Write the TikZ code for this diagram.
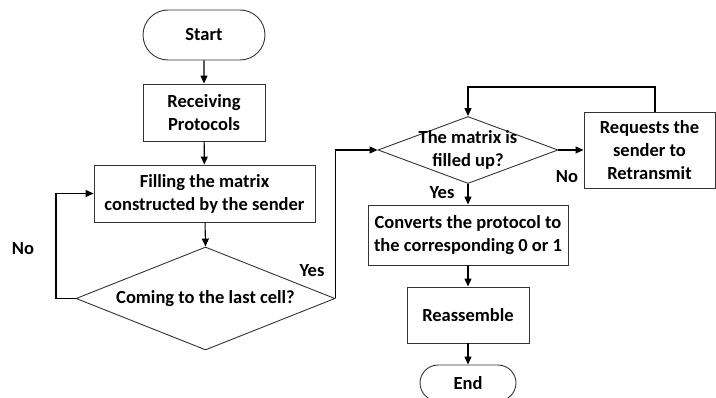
\documentclass[tikz,border=0pt]{standalone}
\usepackage{fontspec}
\setmainfont{Carlito}
\usetikzlibrary{shapes.geometric,shapes.misc,arrows.meta}
\begin{document}
\begin{tikzpicture}[x=1pt,y=-1pt,
  every node/.style={font=\fontsize{18.5}{23}\selectfont\bfseries, align=center, inner sep=0pt},
  proc/.style={draw=black!80, line width=0.9pt, rectangle},
  term/.style={draw=black!80, line width=0.9pt, rounded rectangle},
  dec/.style={draw=black!80, line width=0.9pt, diamond},
  conn/.style={draw=black, line width=1.1pt, -{Triangle[length=8pt,width=7pt]}},
  lbl/.style={}]
\clip (0,0) rectangle (716,398);
\useasboundingbox (0,0) rectangle (716,398);
\node[term, minimum width=122pt, minimum height=50pt] (start) at (204,35) {Start};
\node[proc, minimum width=122pt, minimum height=57pt] (recv) at (204,112.5) {Receiving\\Protocols};
\node[proc, minimum width=221pt, minimum height=57pt] (fill) at (204.5,193.5) {Filling the matrix\\constructed by the sender};
\node[dec, aspect=2.515, minimum width=259pt, minimum height=103pt] (d1) at (205.5,298.5) {Coming to the last cell?};
\node[dec, aspect=2.69, minimum width=180pt, minimum height=67pt] (d2) at (468,150) {};
\node (d2t) at (468,150) {The matrix is\\filled up?};
\node[proc, minimum width=131pt, minimum height=76pt] (req) at (649.5,150) {Requests the\\sender to\\Retransmit};
\node[proc, minimum width=200pt, minimum height=60pt] (conv) at (468,235) {Converts the protocol to\\the corresponding 0 or 1};
\node[proc, minimum width=122pt, minimum height=56pt] (reas) at (468,315) {Reassemble};
\node[term, minimum width=96pt, minimum height=36pt] (end) at (468,383) {End};
\coordinate (loopl) at (56,298.5);
\coordinate (looptop) at (655,87);
\draw[conn] (start) -- (recv);
\draw[conn] (recv) -- (fill);
\draw[conn] (fill) -- (d1.north);
\draw[conn] (d1.west) -- (loopl) |- (fill.west);
\draw[conn] (d1.east) |- (d2.west);
\draw[conn] (d2.east) -- (req.west);
\draw[conn] (req.north -| looptop) -- (looptop) -| (d2.north);
\draw[conn] (d2.south) -- (conv.north);
\draw[conn] (conv) -- (reas);
\draw[conn] (reas) -- (end);
\node[lbl] (no1) at (23,249) {No};
\node[lbl] (yes1) at (312,271) {Yes};
\node[lbl] (yes2) at (442,193) {Yes};
\node[lbl] (no2) at (567,177) {No};
\end{tikzpicture}
\end{document}
